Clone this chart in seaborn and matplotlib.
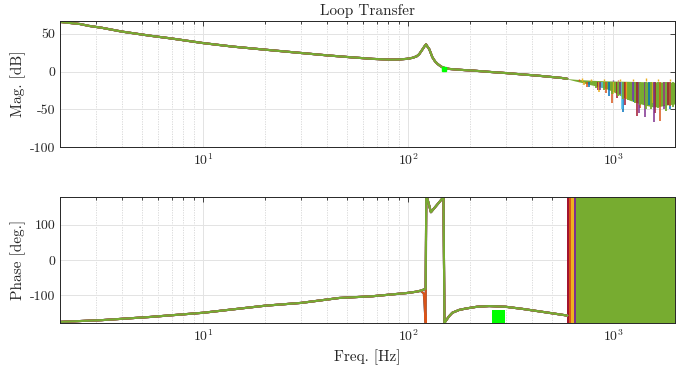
import matplotlib
matplotlib.use('Agg')
import matplotlib.pyplot as plt
import seaborn as sns

# MATLAB colour order, green drawn last so it ends up on top
series_names = ['blue', 'lightblue', 'red', 'orange', 'yellow', 'purple', 'green']
series_colors = ['#0072BD', '#4DBEEE', '#A2142F', '#D95319', '#EDB120', '#7E2F8E', '#77AC30']
dip_series = ['blue', 'orange']

# smooth part of the magnitude (all runs on top of each other)
mag_freq = [2, 2.5, 2.77, 3.2, 4, 5.5, 7, 10, 14, 20, 30, 40, 52, 67, 81, 90, 98, 105, 110, 113,
            117, 120, 122, 124, 126.6, 131, 135, 139, 143, 147, 152, 158, 175, 191, 206, 250, 299,
            360, 434, 500, 560, 596]
mag_db = [65.8, 63, 60.5, 58, 53, 47.5, 43.8, 37.7, 33, 29, 24.6, 21.5, 19, 16.8, 15.8, 16, 16.8,
          18.2, 20.3, 23, 29, 33.5, 36, 33, 29.5, 19, 13.5, 10, 7.5, 5.5, 4.4, 3.5, 2.5, 1.8, 1.3,
          -0.5, -2, -3.8, -5.6, -7.2, -8.5, -9.6]

# envelope of the dense noise band above ~600 Hz
noise_freq = [596, 650, 700, 760, 820, 880, 950, 1020, 1100, 1200, 1330, 1450, 1574, 1700, 1850, 2000]
noise_top = [-9.4, -10.2, -10.8, -11.3, -11.8, -12.1, -12.4, -12.6, -12.8, -13, -13.3, -13.6, -13.8, -13.8, -14, -14.2]
noise_bottom = [-9.8, -12.5, -14.5, -17, -19, -21, -24, -28, -33, -38, -42, -45, -47, -46, -44, -43]

# single deep notches of each run below the band (freq, dB)
spike_freq = {
    'blue': [760, 950, 1120, 1260, 1500, 1880],
    'lightblue': [880, 1100, 1250, 1450, 1800],
    'red': [840, 1040, 1140, 1300, 1600, 1850],
    'orange': [740, 920, 987, 1150, 1350, 1698, 1900],
    'yellow': [720, 850, 1000, 1160, 1350, 1550, 1760],
    'purple': [860, 1080, 1250, 1330, 1430, 1574, 1760],
    'green': [820, 900, 980, 1050, 1120, 1180, 1280, 1350, 1450, 1530, 1650, 1800, 1950],
}
spike_db = {
    'blue': [-20, -32, -53, -40, -45, -50],
    'lightblue': [-22, -50, -38, -44, -48],
    'red': [-25, -35, -45, -59, -55, -45],
    'orange': [-20, -28, -42, -35, -48, -66, -46],
    'yellow': [-18, -27, -30, -36, -40, -42, -45],
    'purple': [-24, -30, -38, -55, -60, -67, -50],
    'green': [-22, -24, -30, -32, -36, -38, -42, -45, -50, -49, -48, -52, -47],
}
spike_base = -14

# small peaks sticking out above the band
peak_freq = {
    'orange': [680, 1050, 1800],
    'yellow': [700, 780, 900, 1080, 1250, 1450, 1650, 1880],
    'purple': [1000, 1500, 1880],
}
peak_db = {
    'orange': [-9.5, -11, -12],
    'yellow': [-9, -9.5, -10, -9.5, -10, -9, -10, -9.5],
    'purple': [-11, -12, -12],
}
peak_base = -12.5

# phase (wrapped to +-180)
phase_freq = [2, 3.2, 5.5, 10, 20, 30, 46, 67, 98, 110, 115, 119, 121.5, 122.3, 123.7, 128.9, 148.5,
              150, 152, 158, 164, 177, 191, 216, 248, 298, 360, 434, 523, 596]
phase_main = [-176, -171, -162, -150, -130, -122, -108, -103, -94, -90, -87, -84, -82, 180, 176, 136,
              179, -179, -174, -160, -150, -142, -138, -133, -131, -133, -139, -146, -153, -158]
phase_dip = [-176, -171, -162, -150, -130, -122, -108, -103, -94, -90, -88, -95, -179, 180, 176, 136,
             179, -179, -174, -160, -150, -142, -138, -133, -131, -133, -139, -146, -153, -158]

# above these frequencies the phase of each run wraps continuously
wrap_start = [665, 670, 596, 607, 623, 643, 660]
wrap_end = 2000

# bright green highlights
mark_freq = [149]
mark_db = [3]
band_freq = [257, 296]
band_lo = [-180, -180]
band_hi = [-141, -141]

mag_ticks = [-100, -50, 0, 50]
mag_ticklabels = ['-100', '-50', '0', '50']
phase_ticks = [-100, 0, 100]
phase_ticklabels = ['-100', '0', '100']
freq_range = [2, 2000]


def style_axis(ax):
    ax.set_xscale('log')
    ax.set_xlim(freq_range)
    ax.set_axisbelow(True)
    ax.grid(True, which='major', axis='both', color='#e3e3e3', lw=0.7, ls='-')
    ax.grid(True, which='minor', axis='x', color='#d5d5d5', lw=0.6, ls=(0, (1.5, 1.5)))
    ax.tick_params(which='both', direction='in', top=True, right=True, colors='#262626',
                   labelsize=10, width=0.6)
    ax.tick_params(which='major', length=3.5)
    ax.tick_params(which='minor', length=2)
    for s in ax.spines.values():
        s.set_color('#262626')
        s.set_linewidth(0.7)


def main():
    sns.set_style('white')
    plt.rcParams['font.family'] = ['cmr10', 'DejaVu Serif']
    plt.rcParams['mathtext.fontset'] = 'cm'
    plt.rcParams['axes.formatter.use_mathtext'] = True
    plt.rcParams['axes.unicode_minus'] = False

    fig = plt.figure(figsize=(6.97, 3.71), dpi=100)
    ax_mag = fig.add_axes([0.0861, 0.6038, 0.8824, 0.3396])
    ax_ph = fig.add_axes([0.0861, 0.1286, 0.8824, 0.3412])

    # 1. Magnitude
    green = series_colors[-1]
    for name, c in zip(series_names, series_colors):
        sns.lineplot(x=mag_freq, y=mag_db, color=c, lw=1.5, ax=ax_mag, estimator=None)
        if name != 'green':
            ax_mag.vlines(spike_freq[name], spike_db[name], spike_base, color=c, lw=1.1)
    ax_mag.fill_between(noise_freq, noise_bottom, noise_top, color=green, lw=0)
    ax_mag.vlines(spike_freq['green'], spike_db['green'], spike_base, color=green, lw=1.3)
    for name in peak_freq:
        c = series_colors[series_names.index(name)]
        ax_mag.vlines(peak_freq[name], peak_base, peak_db[name], color=c, lw=1.0)
    ax_mag.plot(mark_freq, mark_db, 's', color='#00FF00', ms=3, mec='#00FF00')

    style_axis(ax_mag)
    ax_mag.set_ylim(-100, 67)
    ax_mag.set_yticks(mag_ticks, mag_ticklabels)
    ax_mag.set_ylabel('Mag. [dB]', fontsize=11, labelpad=3)
    ax_mag.set_xlabel('')
    ax_mag.set_title('Loop Transfer', fontsize=11, pad=4)

    # 2. Phase
    for name, c, f0 in zip(series_names, series_colors, wrap_start):
        ph = phase_dip if name in dip_series else phase_main
        sns.lineplot(x=phase_freq, y=ph, color=c, lw=1.5, ax=ax_ph, estimator=None)
        ax_ph.fill_between([f0, wrap_end], [-180, -180], [180, 180], color=c, lw=0)
    ax_ph.fill_between(band_freq, band_lo, band_hi, color='#00FF00', lw=0)

    style_axis(ax_ph)
    ax_ph.set_ylim(-180, 180)
    ax_ph.set_yticks(phase_ticks, phase_ticklabels)
    ax_ph.set_ylabel('Phase [deg.]', fontsize=11, labelpad=3)
    ax_ph.set_xlabel('Freq. [Hz]', fontsize=11)

    fig.savefig('out.png', dpi=100)
    plt.close(fig)


if __name__ == '__main__':
    main()
